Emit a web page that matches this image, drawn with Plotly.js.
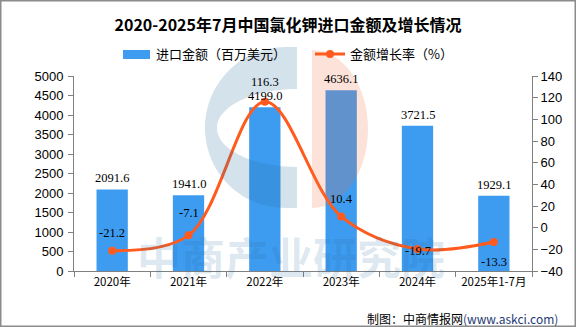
<!DOCTYPE html>
<html>
<head>
<meta charset="utf-8">
<script src="https://cdn.plot.ly/plotly-3.0.1.min.js"></script>
<style>
html,body{margin:0;padding:0;background:#fff;}
#chart{width:576px;height:327px;}
</style>
</head>
<body>
<div id="chart"></div>
<script>
// ---- data ----
const categories = ["2020年", "2021年", "2022年", "2023年", "2024年", "2025年1-7月"];
const importValue = [2091.6, 1941.0, 4199.0, 4636.1, 3721.5, 1929.1];
const growthRate = [-21.2, -7.1, 116.3, 10.4, -19.7, -13.3];
const leftTicks = [0, 500, 1000, 1500, 2000, 2500, 3000, 3500, 4000, 4500, 5000];
const rightTicks = [-40, -20, 0, 20, 40, 60, 80, 100, 120, 140];

// ---- layout helpers ----
const W = 576, H = 327, ML = 74, MR = 44, MT = 76, MB = 56;
const PW = W - ML - MR, PH = H - MT - MB;
const px = x => (x - ML) / PW;
const py = y => (H - MB - y) / PH;
function pathPx(cmds) {
  return cmds.map(c => {
    const l = c[0]; const nums = c.slice(1);
    const out = [];
    for (let i = 0; i < nums.length; i += 2) out.push(px(nums[i]).toFixed(4) + "," + py(nums[i + 1]).toFixed(4));
    return l + out.join(" ");
  }).join(" ") + " Z";
}

const BAR = "#3E9CF0";
const LINE = "#FF5B1F";
const labelFont = {family: "Liberation Serif, serif", size: 12.5, color: "#000"};
const lineLabelShift = [18, 22, 20, 17, -2, -20];

const traces = [
  {
    type: "bar", x: categories, y: importValue, name: "进口金额（百万美元）",
    marker: {color: BAR}, width: 0.41, yaxis: "y", hoverinfo: "skip"
  },
  {
    type: "scatter", mode: "lines+markers", x: categories, y: growthRate, name: "金额增长率（%）",
    yaxis: "y2", line: {color: LINE, width: 3, shape: "spline", smoothing: 1},
    marker: {color: LINE, size: 8}, hoverinfo: "skip"
  }
];

const annotations = [];
categories.forEach((c, i) => {
  annotations.push({x: c, y: importValue[i], xref: "x", yref: "y", text: importValue[i].toFixed(1),
    showarrow: false, yanchor: "bottom", yshift: 2, font: labelFont});
  annotations.push({x: c, y: growthRate[i], xref: "x", yref: "y2", text: growthRate[i].toFixed(1),
    showarrow: false, yanchor: "middle", yshift: lineLabelShift[i], font: labelFont});
});
annotations.push({xref: "paper", yref: "paper", x: px(154), y: py(54), xanchor: "left", yanchor: "middle",
  text: "进口金额（百万美元）", showarrow: false, font: {family: "Noto Sans CJK SC", size: 13, color: "#000"}});
annotations.push({xref: "paper", yref: "paper", x: px(348), y: py(54), xanchor: "left", yanchor: "middle",
  text: "金额增长率（%）", showarrow: false, font: {family: "Noto Sans CJK SC", size: 13, color: "#000"}});
annotations.push({xref: "paper", yref: "paper", x: px(291), y: py(256), xanchor: "center", yanchor: "middle",
  text: "<b>中商产业研究院</b>", showarrow: false,
  font: {family: "Noto Sans CJK SC", size: 44, color: "rgba(40,110,160,0.16)"}});
annotations.push({xref: "paper", yref: "paper", x: px(560), y: py(318), xanchor: "right", yanchor: "middle",
  text: "制图：中商情报网<span style=\"color:#1F3A73\">(www.askci.com)</span>", showarrow: false,
  font: {family: "Noto Sans CJK SC", size: 12, color: "#000"}});

const shapes = [
  {type: "path", xref: "paper", yref: "paper", layer: "above", line: {width: 0},
   fillcolor: "rgba(40,110,160,0.2)",
   path: pathPx([["M", 297, 47], ["L", 285, 47], ["C", 240.8, 47, 205, 83.8, 205, 128],
     ["C", 205, 172.2, 240.8, 208, 285, 208], ["L", 297, 208], ["L", 297, 167],
     ["C", 253, 167, 217, 149.5, 217, 128], ["C", 217, 106.5, 253, 89, 297, 89]])},
  {type: "path", xref: "paper", yref: "paper", layer: "above", line: {width: 0},
   fillcolor: "rgba(240,110,60,0.2)",
   path: pathPx([["M", 312, 50], ["L", 312, 208], ["C", 342.9, 208, 368, 172.6, 368, 129],
     ["C", 368, 85.4, 342.9, 50, 312, 50]])},
  {type: "rect", xref: "paper", yref: "paper", x0: px(123), x1: px(150), y0: py(59), y1: py(50),
   fillcolor: BAR, line: {width: 0}},
  {type: "line", xref: "paper", yref: "paper", x0: px(315), x1: px(345), y0: py(54), y1: py(54),
   line: {color: LINE, width: 3}},
  {type: "circle", xref: "paper", yref: "paper", x0: px(326), x1: px(334), y0: py(58), y1: py(50),
   fillcolor: LINE, line: {width: 0}},
  {type: "rect", xref: "paper", yref: "paper", x0: px(0.75), x1: px(575.25), y0: py(326.25), y1: py(0.75),
   line: {color: "#8C8C8C", width: 1.5}, fillcolor: "rgba(0,0,0,0)"}
];

const axisFont = {family: "Liberation Sans, Arial, sans-serif", size: 13, color: "#000"};
const layout = {
  width: W, height: H,
  margin: {l: ML, r: MR, t: MT, b: MB, pad: 0},
  paper_bgcolor: "#fff", plot_bgcolor: "#fff",
  showlegend: false,
  title: {text: "2020-2025年7月中国氯化钾进口金额及增长情况", x: 0.5, xanchor: "center",
    y: 1 - 25 / H, yanchor: "middle", yref: "container",
    font: {family: "Noto Sans CJK SC", size: 16, weight: "bold", color: "#000"}},
  xaxis: {type: "category", showline: true, linecolor: "#808080", linewidth: 1,
    ticks: "outside", tickson: "boundaries", ticklen: 5, tickcolor: "#808080",
    showgrid: false, zeroline: false,
    tickfont: {family: "Noto Sans CJK SC", size: 11.5, color: "#000"}},
  yaxis: {range: [0, 5000], tickvals: leftTicks, ticktext: leftTicks.map(String),
    showline: true, linecolor: "#808080", linewidth: 1, ticks: "outside", ticklen: 5, tickcolor: "#808080",
    showgrid: false, zeroline: false, tickfont: axisFont, ticklabelstandoff: 2},
  yaxis2: {range: [-40, 140], tickvals: rightTicks, ticktext: rightTicks.map(v => v < 0 ? "−" + Math.abs(v) : String(v)),
    overlaying: "y", side: "right",
    showline: true, linecolor: "#808080", linewidth: 1, ticks: "outside", ticklen: 5, tickcolor: "#808080",
    showgrid: false, zeroline: false, tickfont: axisFont},
  annotations: annotations,
  shapes: shapes
};

Plotly.newPlot("chart", traces, layout, {displayModeBar: false, staticPlot: true});
</script>
</body>
</html>
